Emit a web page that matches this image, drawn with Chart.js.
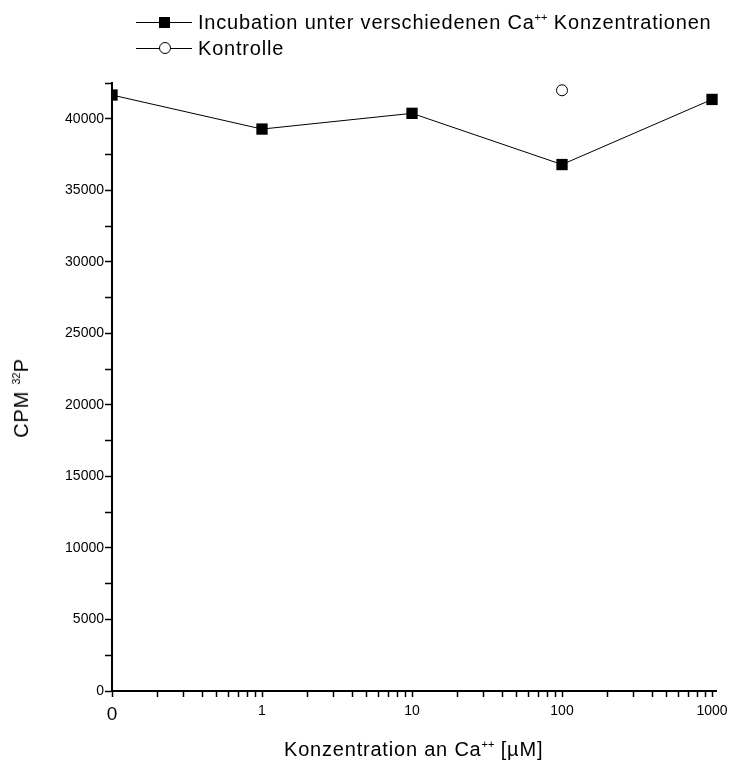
<!DOCTYPE html>
<html>
<head>
<meta charset="utf-8">
<script src="https://cdn.jsdelivr.net/npm/chart.js@4.4.1/dist/chart.umd.min.js"></script>
<style>
  body { margin: 0; background: #fff; }
  #wrap { position: relative; width: 734px; height: 763px; font-family: "Liberation Sans", Arial, sans-serif; color: #000; }
  #wrap canvas { position: absolute; left: 0; top: 0; }
  .txt { position: absolute; font-size: 20px; letter-spacing: 0.8px; white-space: nowrap; line-height: 1; }
  .txt sup { font-size: 11px; letter-spacing: 0; vertical-align: 0; position: relative; top: -8px; }
  .leg-line { position: absolute; height: 1px; background: #000; }
  .leg-sq { position: absolute; width: 11px; height: 11px; background: #000; }
  .leg-ci { position: absolute; width: 10px; height: 10px; border: 1px solid #000; border-radius: 50%; background: #fff; }
</style>
</head>
<body>
<div id="wrap">
  <canvas id="chart" width="734" height="763"></canvas>

  <!-- legend -->
  <div class="leg-line" style="left:136px; top:22px; width:56px;"></div>
  <div class="leg-sq" style="left:159px; top:17px;"></div>
  <div class="txt" style="left:198px; top:12px;">Incubation unter verschiedenen Ca<sup>++</sup> Konzentrationen</div>
  <div class="leg-line" style="left:136px; top:48px; width:56px;"></div>
  <div class="leg-ci" style="left:159px; top:42px;"></div>
  <div class="txt" style="left:198px; top:38px;">Kontrolle</div>

  <!-- axis titles -->
  <div class="txt" style="left:284px; top:739px;">Konzentration an Ca<sup>++</sup> [µM]</div>
  <div class="txt" style="left:21px; top:398px; transform: translate(-50%, -50%) rotate(-90deg);">CPM <sup>32</sup>P</div>
</div>

<script>
// concentration in µM; 0 is drawn at 0.1 on the log axis
const concentrations = [0.1, 1, 10, 100, 1000];
const incubationCpm = [41660, 39280, 40380, 36800, 41350];
const controlConc = [100];
const controlCpm = [41990];

const xDecades = [0.1, 1, 10, 100];
const xTickLabels = ['0', '1', '10', '100', '1000'];

const yMax = 42500;
const yStep = 2500;

// log ticks: 1..9 in each decade, plus the last one
const xTicks = [];
xDecades.forEach(d => {
  for (let m = 1; m <= 9; m++) xTicks.push(d * m);
});
xTicks.push(1000);

function isDecade(v) {
  const l = Math.log10(v);
  return Math.abs(l - Math.round(l)) < 1e-6;
}

const ctx = document.getElementById('chart').getContext('2d');
new Chart(ctx, {
  type: 'line',
  data: {
    datasets: [
      {
        label: 'Incubation',
        data: concentrations.map((c, i) => ({ x: c, y: incubationCpm[i] })),
        borderColor: '#000',
        borderWidth: 1,
        backgroundColor: '#000',
        pointStyle: 'rect',
        pointRadius: 8,
        pointBorderWidth: 0,
        pointBackgroundColor: '#000',
        clip: { left: 0, right: false, top: false, bottom: false }
      },
      {
        label: 'Kontrolle',
        data: controlConc.map((c, i) => ({ x: c, y: controlCpm[i] })),
        showLine: false,
        pointStyle: 'circle',
        pointRadius: 5.5,
        pointBorderWidth: 1,
        pointBorderColor: '#000',
        pointBackgroundColor: '#fff'
      }
    ]
  },
  options: {
    responsive: false,
    animation: false,
    layout: { padding: { top: 83, right: 18, left: 0, bottom: 0 } },
    plugins: {
      legend: { display: false },
      tooltip: { enabled: false }
    },
    scales: {
      x: {
        type: 'logarithmic',
        min: 0.1,
        max: 1063,   // axis line runs a little past 1000
        afterBuildTicks: scale => {
          scale.ticks = xTicks.map(v => ({ value: v, major: isDecade(v) }));
        },
        afterFit: scale => {
          scale.height = 72;
          scale.paddingLeft = 0;
          scale.paddingRight = 0;
        },
        border: { display: true, color: '#000', width: 2 },
        grid: {
          drawOnChartArea: false,
          drawTicks: true,
          tickLength: 6,
          tickColor: '#000',
          tickWidth: 1.5
        },
        ticks: {
          autoSkip: false,
          maxRotation: 0,
          padding: 6,
          color: '#000',
          font: c => (c.tick && c.tick.value < 0.5)
            ? { family: 'Liberation Sans', size: 19 }
            : { family: 'Liberation Sans', size: 14 },
          callback: v => {
            if (!isDecade(v)) return '';
            const i = Math.round(Math.log10(v)) + 1;
            return xTickLabels[i];
          }
        }
      },
      y: {
        min: 0,
        max: yMax,
        afterFit: scale => {
          scale.width = 112;
          scale.paddingTop = 0;
          scale.paddingBottom = 0;
        },
        border: { display: true, color: '#000', width: 2 },
        grid: {
          drawOnChartArea: false,
          drawTicks: true,
          tickLength: 7,
          tickColor: '#000',
          tickWidth: 1.5
        },
        ticks: {
          stepSize: yStep,
          autoSkip: false,
          padding: 1,
          color: '#000',
          font: { family: 'Liberation Sans', size: 14 },
          callback: v => (v % 5000 === 0 ? String(v) : '')
        }
      }
    }
  }
});
</script>
</body>
</html>
